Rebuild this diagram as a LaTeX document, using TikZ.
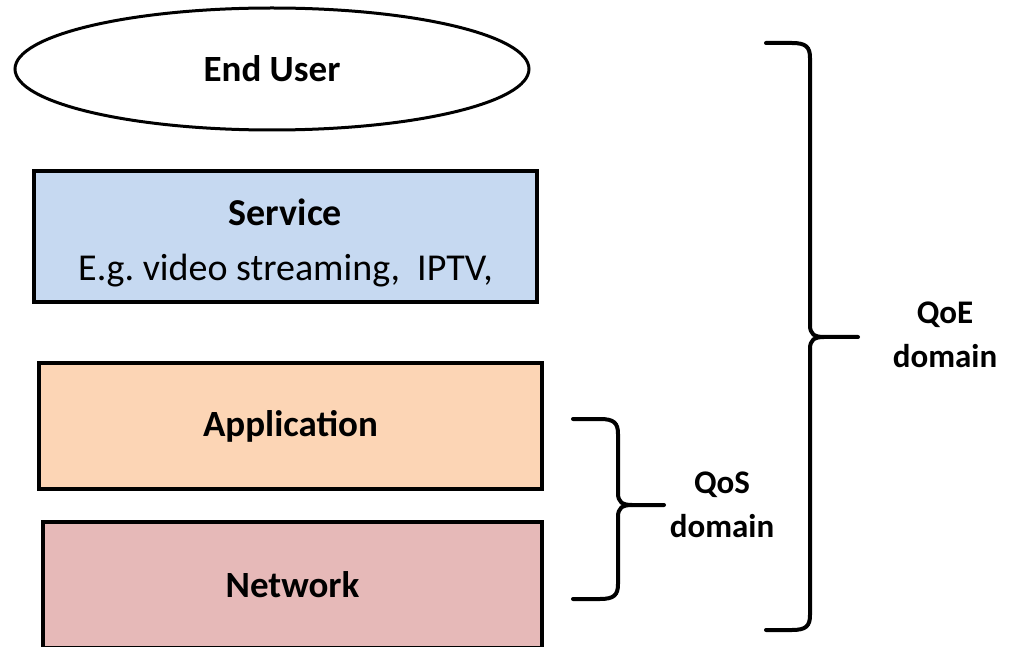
\documentclass[tikz,border=0pt]{standalone}
\usepackage{fontspec}
\setmainfont{Carlito}
\usetikzlibrary{shapes.geometric}
\definecolor{svcblue}{HTML}{C6D9F1}
\definecolor{appbeige}{HTML}{FCD5B5}
\definecolor{netrose}{HTML}{E6B9B8}
\tikzset{
  layerbox/.style={draw=black, line width=4pt, rectangle, inner sep=0pt},
  bracepath/.style={draw=black, line width=4pt, line cap=round, line join=round},
  domainlabel/.style={align=center, font=\bfseries\fontsize{33}{44}\selectfont}
}
\begin{document}
\frenchspacing
\begin{tikzpicture}[x=1pt, y=-1pt]
\useasboundingbox (0,0) rectangle (1013,647);

% layer stack
\node[ellipse, draw=black, line width=3pt, minimum width=514pt, minimum height=122pt,
      font=\bfseries\fontsize{37}{44}\selectfont] (user) at (272,69) {End User};
\node[layerbox, fill=svcblue, minimum width=503pt, minimum height=131pt] (service) at (285.5,236.5) {};
\node[align=center, font=\fontsize{38}{55}\selectfont] (servicetext) at (285.5,243)
      {\textbf{Service}\\E.g. video streaming,\ \ IPTV,};
\node[layerbox, fill=appbeige, minimum width=503pt, minimum height=126pt,
      font=\bfseries\fontsize{37}{44}\selectfont] (app) at (290.5,426) {Application};
\node[layerbox, fill=netrose, minimum width=499pt, minimum height=126pt,
      font=\bfseries\fontsize{37}{44}\selectfont] (net) at (292.5,585) {Network};

% QoS brace
\coordinate (qsT) at (573,419);
\coordinate (qsB) at (573,599);
\coordinate (qsM) at (664,505);
\draw[bracepath] (qsT) -- (600,419) .. controls (614,419) and (618,423) .. (618,434)
  -- (618,493) .. controls (618,502) and (622,505) .. (632,505) -- (qsM);
\draw[bracepath] (qsB) -- (600,599) .. controls (614,599) and (618,595) .. (618,584)
  -- (618,517) .. controls (618,508) and (622,505) .. (632,505);
\node[domainlabel] (qos) at (722,505) {QoS\\domain};

% QoE brace
\coordinate (qeT) at (766,43);
\coordinate (qeB) at (766,630);
\coordinate (qeM) at (858,337);
\draw[bracepath] (qeT) -- (792,43) .. controls (806,43) and (810,47) .. (810,58)
  -- (810,325) .. controls (810,334) and (814,337) .. (824,337) -- (qeM);
\draw[bracepath] (qeB) -- (792,630) .. controls (806,630) and (810,626) .. (810,615)
  -- (810,349) .. controls (810,340) and (814,337) .. (824,337);
\node[domainlabel] (qoe) at (945,335) {QoE\\domain};
\end{tikzpicture}
\end{document}
